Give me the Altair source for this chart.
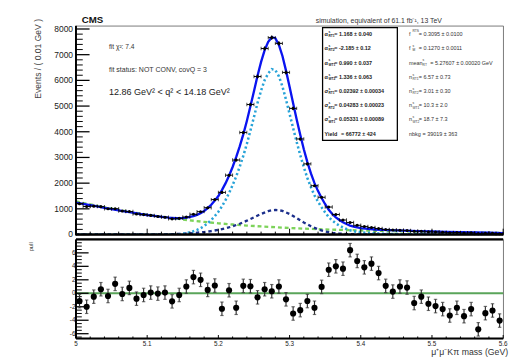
import altair as alt
import pandas as pd
import numpy as np

# ---------------- data ----------------
mass_bins = [5.005, 5.015, 5.025, 5.035, 5.045, 5.055, 5.065, 5.075, 5.085, 5.095,
             5.105, 5.115, 5.125, 5.135, 5.145, 5.155, 5.165, 5.175, 5.185, 5.195,
             5.205, 5.215, 5.225, 5.235, 5.245, 5.255, 5.265, 5.275, 5.285, 5.295,
             5.305, 5.315, 5.325, 5.335, 5.345, 5.355, 5.365, 5.375, 5.385, 5.395,
             5.405, 5.415, 5.425, 5.435, 5.445, 5.455, 5.465, 5.475, 5.485, 5.495,
             5.505, 5.515, 5.525, 5.535, 5.545, 5.555, 5.565, 5.575, 5.585, 5.595]

counts = [1200, 1090, 1105, 1085, 1005, 1005, 915, 895, 800, 775,
          745, 705, 675, 610, 630, 680, 790, 890, 1045, 1360,
          1640, 2310, 2900, 3970, 5060, 6150, 7240, 7665, 7440, 6310,
          4910, 3720, 2750, 1900, 1450, 1070, 780, 565, 470, 360,
          315, 275, 235, 195, 175, 170, 160, 125, 127, 108,
          98, 88, 72, 78, 60, 65, 35, 50, 48, 32]

pulls = [-1.16, -2.0, -0.5, 0.6, -0.4, 1.4, -0.1, 0.8, -0.8, -0.25,
         0.1, -0.05, 0.1, -1.2, -0.25, 1.0, 2.4, 2.0, 0.5, 1.15,
         -2.3, 0.45, -2.15, 1.1, 1.05, -0.6, 0.6, 0.3, 1.0, -0.9,
         -3.0, -2.5, -1.15, -2.15, 0.95, 3.5, 4.0, 3.65, 6.4, 4.8,
         3.85, 4.4, 3.0, 1.1, 0.25, 1.0, 0.85, -1.45, -0.5, -1.55,
         -1.9, -2.35, -3.3, -2.15, -3.4, -2.35, -5.35, -2.95, -2.55, -4.05]

pull_err = [1.0] * 60

# total fit (solid blue)
total_m = [5.00, 5.01, 5.02, 5.03, 5.04, 5.05, 5.06, 5.07, 5.08, 5.09, 5.10, 5.11, 5.12, 5.13, 5.14,
           5.150, 5.155, 5.160, 5.165, 5.170, 5.175, 5.180, 5.185, 5.190, 5.195,
           5.200, 5.205, 5.210, 5.215, 5.220, 5.225, 5.230, 5.235, 5.240, 5.245,
           5.250, 5.255, 5.260, 5.265, 5.270, 5.275, 5.280, 5.285, 5.290, 5.295,
           5.300, 5.305, 5.310, 5.315, 5.320, 5.325, 5.330, 5.335, 5.340, 5.345,
           5.350, 5.355, 5.360, 5.365, 5.370, 5.375, 5.380, 5.385, 5.390, 5.395, 5.400,
           5.42, 5.44, 5.46, 5.48, 5.50, 5.52, 5.54, 5.56, 5.58, 5.60]
total_n = [1245, 1195, 1145, 1095, 1040, 990, 940, 895, 850, 800, 760, 725, 690, 655, 635,
           640, 658, 685, 720, 765, 830, 915, 1025, 1160, 1320,
           1500, 1730, 1990, 2290, 2630, 3010, 3430, 3900, 4420, 4990,
           5580, 6180, 6720, 7180, 7500, 7680, 7640, 7380, 6950, 6380,
           5750, 5110, 4480, 3880, 3320, 2820, 2380, 2000, 1690, 1420,
           1180, 960, 800, 670, 565, 480, 410, 350, 305, 275, 250,
           195, 172, 152, 135, 120, 106, 93, 80, 69, 58]

# right-tag signal (light blue dotted)
rt_m = [5.00, 5.05, 5.10, 5.12, 5.14, 5.145, 5.150, 5.155, 5.160, 5.165, 5.170, 5.175,
        5.180, 5.185, 5.190, 5.195, 5.200, 5.205, 5.210, 5.215, 5.220, 5.225,
        5.230, 5.235, 5.240, 5.245, 5.250, 5.255, 5.260, 5.265, 5.270, 5.275,
        5.280, 5.285, 5.290, 5.295, 5.300, 5.305, 5.310, 5.315, 5.320, 5.325,
        5.330, 5.335, 5.340, 5.345, 5.350, 5.355, 5.360, 5.365, 5.370, 5.375,
        5.380, 5.385, 5.390, 5.395, 5.400, 5.42, 5.44, 5.46, 5.50, 5.55, 5.60]
rt_n = [0, 0, 0, 2, 8, 15, 25, 50, 90, 130, 180, 245,
        330, 435, 565, 715, 885, 1095, 1340, 1610, 1920, 2260,
        2640, 3060, 3530, 4045, 4577, 5120, 5605, 6012, 6270, 6437,
        6400, 6157, 5760, 5253, 4695, 4142, 3598, 3089, 2620, 2200,
        1840, 1525, 1280, 1055, 860, 675, 545, 434, 347, 275,
        217, 166, 128, 104, 85, 45, 22, 12, 5, 2, 1]

# wrong-tag signal (dark blue dashed)
wt_m = [5.00, 5.05, 5.10, 5.12, 5.14, 5.16, 5.18, 5.19, 5.20, 5.21, 5.22, 5.23, 5.24,
        5.25, 5.26, 5.27, 5.275, 5.28, 5.285, 5.29, 5.30, 5.31, 5.32, 5.33, 5.34,
        5.35, 5.36, 5.37, 5.38, 5.40, 5.45, 5.50, 5.60]
wt_n = [0, 1, 5, 10, 20, 45, 95, 135, 180, 240, 320, 420, 540,
        670, 800, 910, 945, 955, 945, 920, 800, 640, 470, 320, 200,
        120, 65, 35, 18, 5, 1, 0, 0]

# background (green dashed)
bkg_m = [5.00, 5.02, 5.04, 5.06, 5.08, 5.10, 5.12, 5.14, 5.16, 5.18, 5.20, 5.22, 5.24,
         5.26, 5.28, 5.30, 5.32, 5.34, 5.36, 5.38, 5.40, 5.44, 5.48, 5.52, 5.56, 5.60]
bkg_n = [1290, 1175, 1060, 955, 860, 775, 692, 620, 552, 492, 437, 390, 350,
         315, 285, 255, 230, 210, 190, 175, 160, 135, 112, 92, 75, 58]

# axis tick values and labels
y_major_top = [0, 1000, 2000, 3000, 4000, 5000, 6000, 7000, 8000]
y_labels_top = ["0", "1000", "2000", "3000", "4000", "5000", "6000", "7000", "8000"]
y_minor_top = [v for v in range(200, 8001, 200) if v % 1000]
x_major = [5.0, 5.1, 5.2, 5.3, 5.4, 5.5, 5.6]
x_labels = ["5", "5.1", "5.2", "5.3", "5.4", "5.5", "5.6"]
x_minor = [round(5.0 + 0.02 * i, 2) for i in range(31) if i % 5]
pull_major = [-6, -4, -2, 0, 2, 4, 6]
pull_labels = ["-6", "-4", "-2", "0", "2", "4", "6"]
pull_minor = [k * 0.5 for k in range(-13, 16) if k % 4]

# parameter box text
left_sym = ["α", "α", "α", "α", "σ", "σ", "σ", "Yield"]
left_sup = ["s", "s", "s", "s", "s", "s", "s", ""]
left_sub = ["RT1", "RT2", "WT1", "WT2", "RT1", "RT2", "WT1", ""]
left_val = ["= 1.168 ± 0.040", "= -2.185 ± 0.12", "= 0.990 ± 0.037", "= 1.336 ± 0.063",
            "= 0.02392 ± 0.00034", "= 0.04283 ± 0.00023", "= 0.05331 ± 0.00089", "= 66772 ± 424"]
right_sym = ["f", "f", "mean", "n", "n", "n", "n", "nbkg"]
right_sup = ["RTS", "s", "s", "s", "s", "s", "s", ""]
right_sub = ["", "M", "RT", "RT1", "RT2", "WT1", "WT2", ""]
right_val = ["= 0.3095 ± 0.0100", "= 0.1270 ± 0.0011", "= 5.27607 ± 0.00020 GeV", "= 6.57 ± 0.73",
             "= 3.01 ± 0.30", "= 10.3 ± 2.0", "= 18.7 ± 7.3", "= 39019 ± 363"]

# ---------------- chart ----------------
FONT = "Liberation Sans"
W, H1, H2 = 440, 215, 102
xs = alt.Scale(domain=[5.0, 5.6], nice=False, zero=False)
ys1 = alt.Scale(domain=[0, 8125], nice=False, zero=False)
ys2 = alt.Scale(domain=[-6.7, 8.0], nice=False, zero=False)
one = pd.DataFrame({"k": [0]})


def T(s, x, y, size, weight="normal", align="left", baseline="alphabetic", angle=0, color="#222"):
    return alt.Chart(one).mark_text(text=s, fontSize=size, fontWeight=weight, align=align,
                                    baseline=baseline, angle=angle, color=color, font=FONT
                                    ).encode(x=alt.value(x), y=alt.value(y))


X = lambda f: alt.X(f, scale=xs, axis=None)
Y1 = lambda f: alt.Y(f, scale=ys1, axis=None)
Y2 = lambda f: alt.Y(f, scale=ys2, axis=None)


def curve(mv, nv, color, width, dash=None):
    df = pd.DataFrame({"m": mv, "n": nv})
    kw = dict(color=color, strokeWidth=width, clip=True)
    if dash:
        kw["strokeDash"] = dash
    return alt.Chart(df).mark_line(**kw).encode(x=X("m:Q"), y=Y1("n:Q"))


def hrule(y, x1, x2, w, color="black"):
    return alt.Chart(one).mark_rule(color=color, strokeWidth=w).encode(
        x=alt.value(x1), x2=alt.value(x2), y=alt.value(y))


def vrule(x, y1, y2, w, color="black"):
    return alt.Chart(one).mark_rule(color=color, strokeWidth=w).encode(
        x=alt.value(x), y=alt.value(y1), y2=alt.value(y2))


d = pd.DataFrame({"m": mass_bins, "n": counts})
d["lo"] = d["m"] - 0.005
d["hi"] = d["m"] + 0.005
d["e"] = np.sqrt(d["n"])
d["nlo"] = d["n"] - d["e"]
d["nhi"] = d["n"] + d["e"]

top_layers = [
    # anchor that fixes the origin of the page layout
    hrule(-11.5, -68.5, -60, 1, "white"),
    curve(bkg_m, bkg_n, "#7dd35a", 2.4, [4, 3]),
    curve(wt_m, wt_n, "#1c2f8c", 2.4, [3.5, 3]),
    curve(rt_m, rt_n, "#27a3d8", 2.6, [2.2, 2.6]),
    curve(total_m, total_n, "#0a14f0", 2.4),
    alt.Chart(d).mark_rule(color="black", strokeWidth=1).encode(x=X("lo:Q"), x2="hi:Q", y=Y1("n:Q")),
    alt.Chart(d).mark_rule(color="black", strokeWidth=1).encode(x=X("m:Q"), y=Y1("nlo:Q"), y2="nhi:Q"),
    alt.Chart(d).mark_tick(orient="vertical", color="black", size=3.5, thickness=1).encode(x=X("lo:Q"), y=Y1("n:Q")),
    alt.Chart(d).mark_tick(orient="vertical", color="black", size=3.5, thickness=1).encode(x=X("hi:Q"), y=Y1("n:Q")),
    alt.Chart(d).mark_circle(color="black", size=10, opacity=1).encode(x=X("m:Q"), y=Y1("n:Q")),
    # inward ticks and labels
    alt.Chart(pd.DataFrame({"v": y_major_top})).mark_rule(color="black", strokeWidth=1.3).encode(
        y=Y1("v:Q"), x=alt.value(0), x2=alt.value(14)),
    alt.Chart(pd.DataFrame({"v": y_minor_top})).mark_rule(color="black", strokeWidth=1).encode(
        y=Y1("v:Q"), x=alt.value(0), x2=alt.value(7)),
    alt.Chart(pd.DataFrame({"v": y_major_top, "t": y_labels_top})).mark_text(
        align="right", baseline="middle", fontSize=8.7, font=FONT, color="#222").encode(
        y=Y1("v:Q"), x=alt.value(-3), text="t:N"),
    alt.Chart(pd.DataFrame({"v": x_major})).mark_rule(color="black", strokeWidth=1).encode(
        x=X("v:Q"), y=alt.value(H1), y2=alt.value(H1 - 6)),
    alt.Chart(pd.DataFrame({"v": x_minor})).mark_rule(color="black", strokeWidth=1).encode(
        x=X("v:Q"), y=alt.value(H1), y2=alt.value(H1 - 3)),
    hrule(H1, 0, W, 2.5),
    vrule(0, 0, H1 + 1, 2),
    # texts
    T("CMS", 6, -2.7, 10, weight="bold", color="#111"),
    T("simulation, equivalent of 61.1 fb⁻¹, 13 TeV", 247, -3.3, 7.1, color="#333"),
    T("Events / ( 0.01 GeV )", -39, -7, 8.8, align="right", baseline="middle", angle=270, color="#444"),
    T("fit χ²: 7.4", 34, 24, 6.8, color="#333"),
    T("fit status: NOT CONV, covQ = 3", 34, 48, 7.2, color="#333"),
    T("12.86 GeV² < q² < 14.18 GeV²", 34, 71.7, 9.3, color="#222"),
    # parameter box
    alt.Chart(one).mark_rect(fill="white", stroke="black", strokeWidth=1.3).encode(
        x=alt.value(254), x2=alt.value(331), y=alt.value(2), y2=alt.value(118)),
]

row_y = [8.5, 23, 38, 53, 67.5, 82, 96.5, 111.5]
for i, yy in enumerate(row_y):
    if left_sym[i] == "Yield":
        top_layers.append(T(left_sym[i], 256, yy, 5.6, weight="bold", baseline="middle", color="#222"))
        top_layers.append(T(left_val[i], 273, yy, 5.6, weight="bold", baseline="middle", color="#222"))
    else:
        top_layers.append(T(left_sym[i], 256, yy, 5.6, weight="bold", baseline="middle", color="#222"))
        top_layers.append(T(left_sup[i], 260, yy - 2.5, 3.4, weight="bold", baseline="middle", color="#222"))
        top_layers.append(T(left_sub[i], 260, yy + 2.2, 3.4, weight="bold", baseline="middle", color="#222"))
        top_layers.append(T(left_val[i], 266, yy, 5.6, weight="bold", baseline="middle", color="#222"))
    s = right_sym[i]
    if s == "mean":
        sx, vx = 357, 365
    elif s == "nbkg":
        sx, vx = 356, 357
    else:
        sx, vx = 346.5, 353
    top_layers.append(T(s, 343, yy, 5.6, baseline="middle", color="#333"))
    if right_sup[i]:
        top_layers.append(T(right_sup[i], sx, yy - 2.6, 3.4, baseline="middle", color="#333"))
    if right_sub[i]:
        top_layers.append(T(right_sub[i], sx, yy + 2.2, 3.4, baseline="middle", color="#333"))
    top_layers.append(T(right_val[i], vx, yy, 5.6, baseline="middle", color="#333"))

top = alt.layer(*top_layers).properties(width=W, height=H1)

# ---------------- pull panel ----------------
p = pd.DataFrame({"m": mass_bins, "p": pulls, "e": pull_err})
p["plo"] = p["p"] - p["e"]
p["phi"] = p["p"] + p["e"]

bottom_layers = [
    alt.Chart(pd.DataFrame({"z": [0.0]})).mark_rule(color="#5aa55a", strokeWidth=2).encode(
        y=Y2("z:Q"), x=alt.value(0), x2=alt.value(W)),
    alt.Chart(pd.DataFrame({"v": pull_major})).mark_rule(color="black", strokeWidth=1.3).encode(
        y=Y2("v:Q"), x=alt.value(0), x2=alt.value(13)),
    alt.Chart(pd.DataFrame({"v": pull_minor})).mark_rule(color="black", strokeWidth=1).encode(
        y=Y2("v:Q"), x=alt.value(0), x2=alt.value(6)),
    alt.Chart(pd.DataFrame({"v": pull_major, "t": pull_labels})).mark_text(
        align="right", baseline="middle", fontSize=6.5, font=FONT, color="#222").encode(
        y=Y2("v:Q"), x=alt.value(-0.5), text="t:N"),
    alt.Chart(pd.DataFrame({"v": x_major})).mark_rule(color="black", strokeWidth=1).encode(
        x=X("v:Q"), y=alt.value(H2), y2=alt.value(H2 - 3.5)),
    alt.Chart(pd.DataFrame({"v": x_minor})).mark_rule(color="black", strokeWidth=1).encode(
        x=X("v:Q"), y=alt.value(H2), y2=alt.value(H2 - 2)),
    alt.Chart(pd.DataFrame({"v": x_major, "t": x_labels})).mark_text(
        align="center", baseline="top", fontSize=6.5, font=FONT, color="#222").encode(
        x=X("v:Q"), y=alt.value(H2 + 2.5), text="t:N"),
    alt.Chart(p).mark_rule(color="#333", strokeWidth=1.2).encode(x=X("m:Q"), y=Y2("plo:Q"), y2="phi:Q"),
    alt.Chart(p).mark_tick(orient="horizontal", color="#333", size=3.5, thickness=1.2).encode(x=X("m:Q"), y=Y2("plo:Q")),
    alt.Chart(p).mark_tick(orient="horizontal", color="#333", size=3.5, thickness=1.2).encode(x=X("m:Q"), y=Y2("phi:Q")),
    alt.Chart(p).mark_circle(color="black", size=40, opacity=1).encode(x=X("m:Q"), y=Y2("p:Q")),
    hrule(0, 0, W, 2.2),
    hrule(H2, 0, W, 2),
    vrule(0, 0, H2, 2),
    T("pull", -46, 3, 6, align="right", baseline="middle", angle=270, color="#444"),
    T("μ⁺μ⁻Kπ mass (GeV)", 366, 119, 9, color="#333"),
]
bottom = alt.layer(*bottom_layers).properties(width=W, height=H2)

chart = alt.vconcat(top, bottom, spacing=5, bounds="flush").properties(
    padding=0
).configure_view(stroke="#555", strokeWidth=0.8)

chart.save("out.html", embed_options={"renderer": "svg", "actions": False})
